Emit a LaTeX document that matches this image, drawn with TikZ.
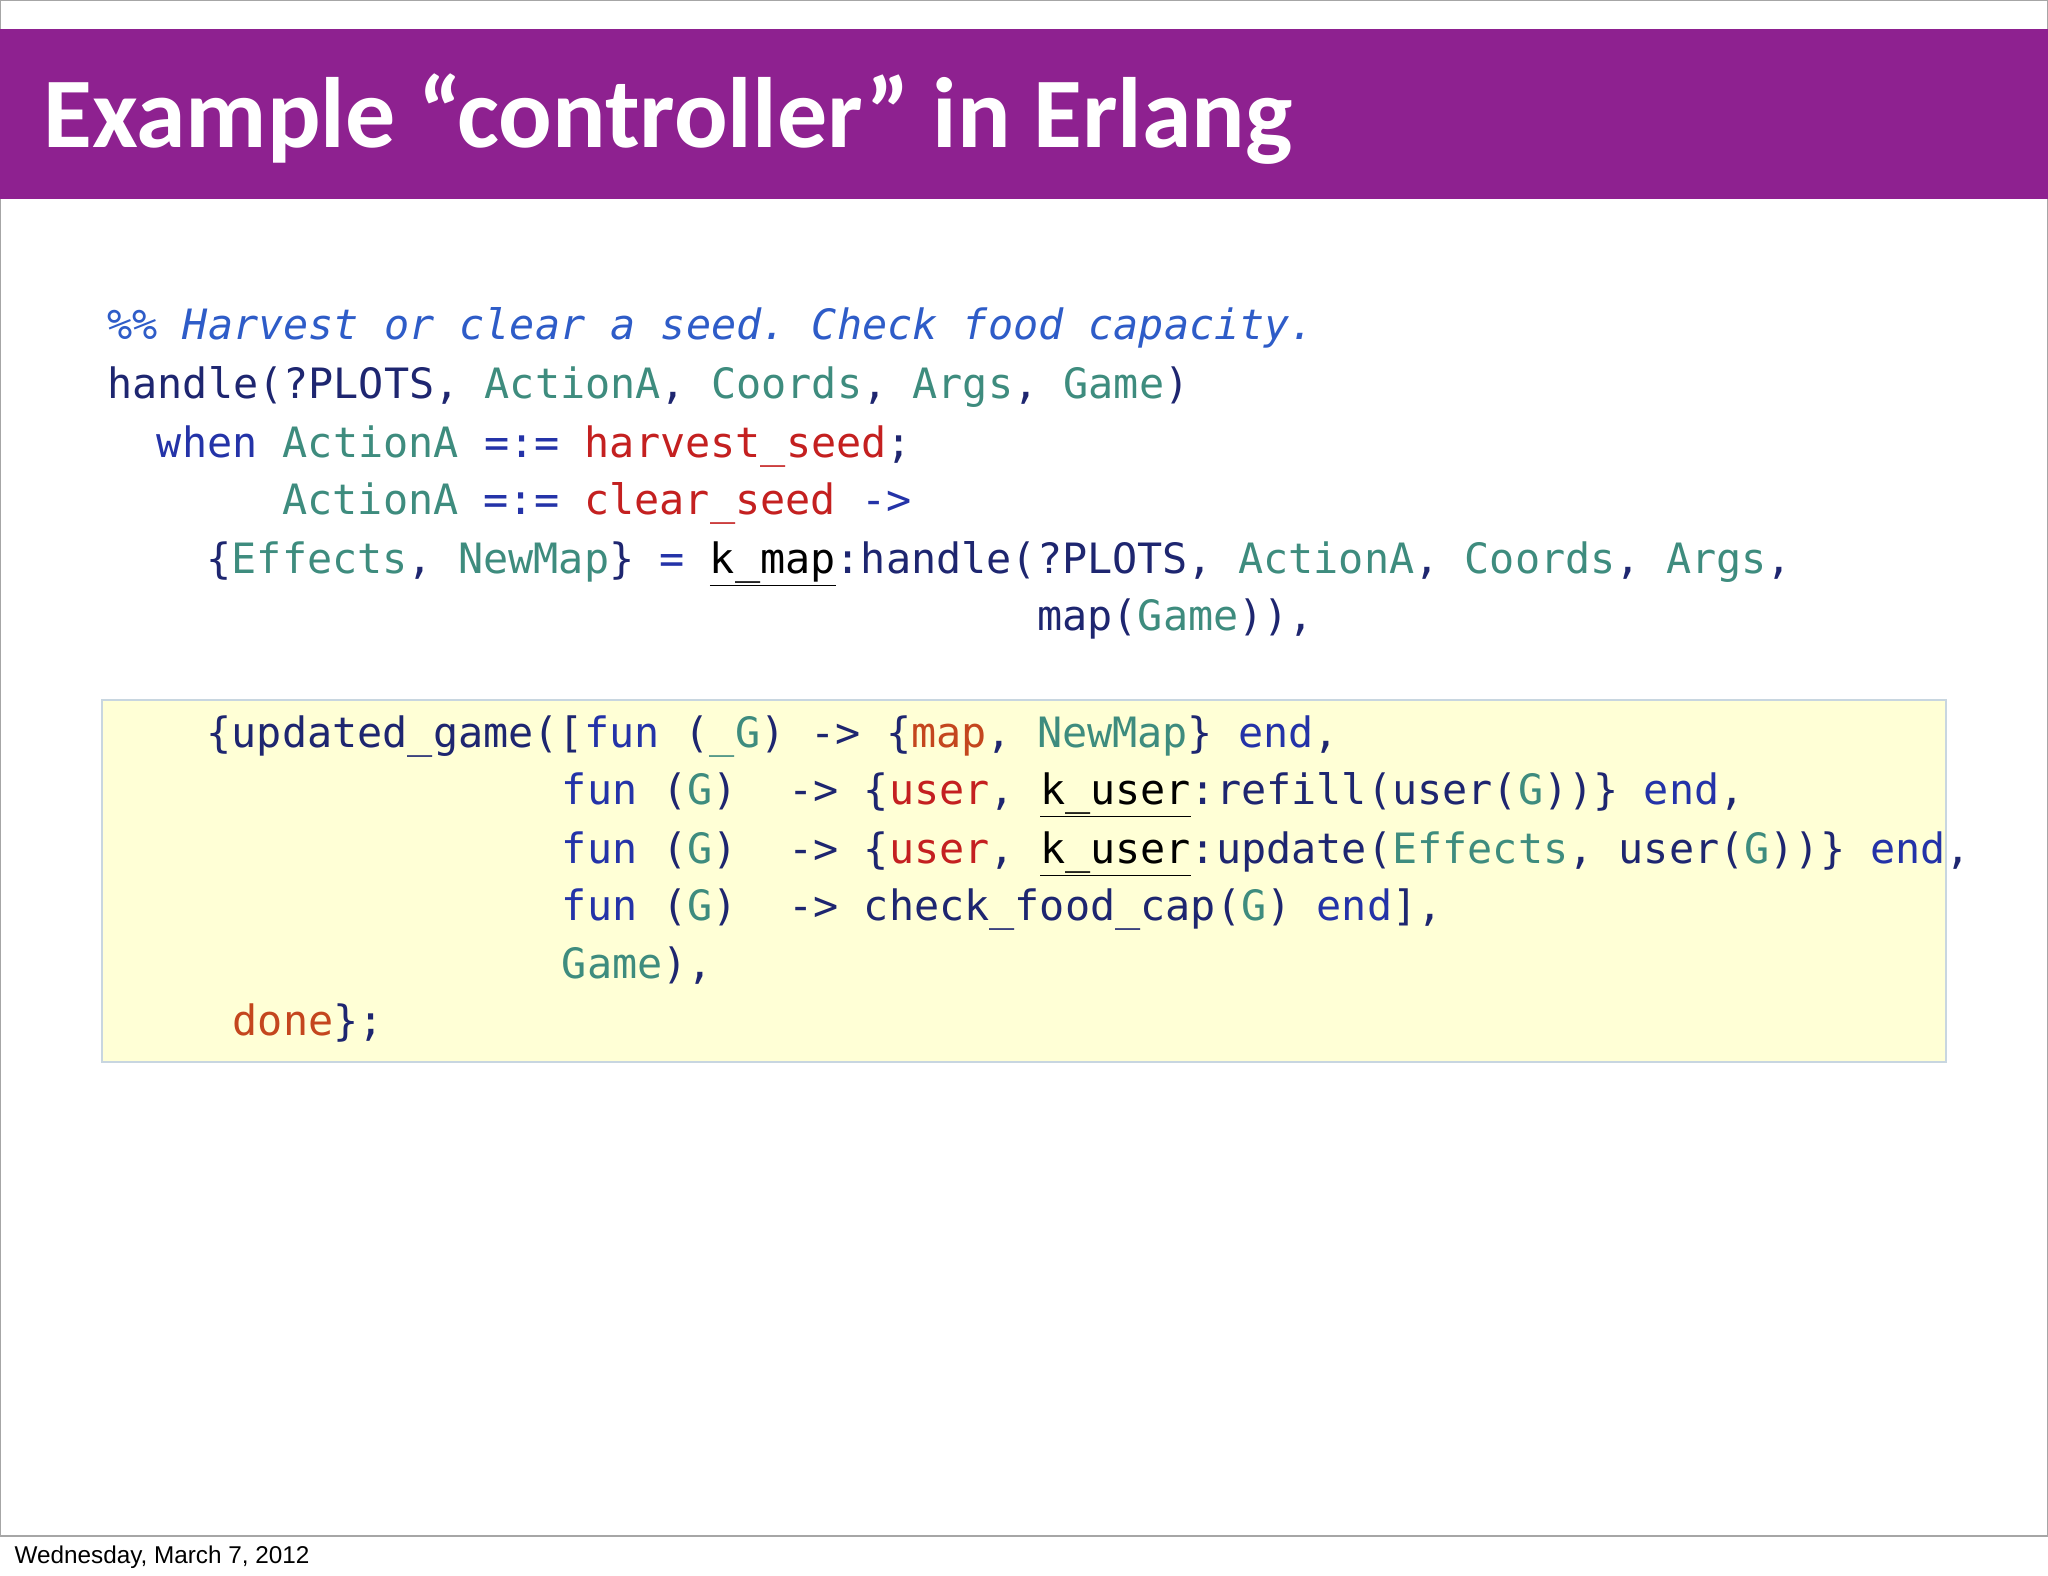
\documentclass[tikz,border=0pt]{standalone}
\usepackage{fontspec}
\setmainfont{Liberation Sans}
\newfontfamily\titlefont{Carlito}
\setmonofont{DejaVu Sans Mono}
\definecolor{barpurple}{HTML}{8E2190}
\definecolor{kwc}{HTML}{2433A8}
\definecolor{vac}{HTML}{3E8C7E}
\definecolor{atc}{HTML}{C42020}
\definecolor{fnc}{HTML}{1E2670}
\definecolor{cmc}{HTML}{2E5CC8}
\definecolor{orc}{HTML}{C4461E}
\definecolor{boxfill}{HTML}{FFFFD6}
\definecolor{boxline}{HTML}{C8D6E0}
\newcommand{\kw}[1]{\textcolor{kwc}{#1}}
\newcommand{\va}[1]{\textcolor{vac}{#1}}
\newcommand{\at}[1]{\textcolor{atc}{#1}}
\newcommand{\fn}[1]{\textcolor{fnc}{#1}}
\newcommand{\orr}[1]{\textcolor{orc}{#1}}
\newcommand{\ul}[1]{\textcolor{black}{\underline{#1}}}
\begin{document}
\begin{tikzpicture}[x=1pt,y=-1pt,
  code/.style={anchor=base west,inner sep=0pt,font=\ttfamily\fontsize{32}{38}\selectfont,text=fnc}]
\useasboundingbox (0,0) rectangle (1568,1206);
\fill[white] (0,0) rectangle (1568,1206);
\draw[gray!70,line width=1pt] (0.5,0.5) rectangle (1567.5,1176);
\fill[barpurple] (0,22) rectangle (1568,152);
\node[anchor=base west,inner sep=0pt,text=white,font=\titlefont\bfseries\fontsize{76.5}{80}\selectfont] (title) at (33,113) {Example “controller” in Erlang};
\node[code,text=cmc,font=\ttfamily\itshape\fontsize{32}{38}\selectfont] (l1) at (82,260) {\%\% Harvest or clear a seed. Check food capacity.};
\node[code] (l2) at (82,305) {handle(?PLOTS, \va{ActionA}, \va{Coords}, \va{Args}, \va{Game})};
\node[code] (l3) at (120,350) {\kw{when} \va{ActionA} \kw{=:=} \at{harvest\_seed};};
\node[code] (l4) at (216,394) {\va{ActionA} \kw{=:=} \at{clear\_seed} \kw{->}};
\node[code] (l5) at (158,439) {\{\va{Effects}, \va{NewMap}\} \kw{=} \ul{k\_map}:handle(?PLOTS, \va{ActionA}, \va{Coords}, \va{Args},};
\node[code] (l6) at (794,483) {map(\va{Game})),};
\draw[boxline,fill=boxfill,line width=1.5pt] (78,536) rectangle (1490,813);
\node[code] (b1) at (158,572) {\{updated\_game([\kw{fun} (\va{\_G}) -> \{\orr{map}, \va{NewMap}\} \kw{end},};
\node[code] (b2) at (430,616) {\kw{fun} (\va{G})\ \ -> \{\at{user}, \ul{k\_user}:refill(user(\va{G}))\} \kw{end},};
\node[code] (b3) at (430,661) {\kw{fun} (\va{G})\ \ -> \{\at{user}, \ul{k\_user}:update(\va{Effects}, user(\va{G}))\} \kw{end},};
\node[code] (b4) at (430,705) {\kw{fun} (\va{G})\ \ -> check\_food\_cap(\va{G}) \kw{end}],};
\node[code] (b5) at (430,749) {\va{Game}),};
\node[code] (b6) at (178,793) {\orr{done}\};};
\node[anchor=base west,inner sep=0pt,font=\fontsize{18.6}{22}\selectfont] (foot) at (11,1197) {Wednesday, March 7, 2012};
\end{tikzpicture}
\end{document}
